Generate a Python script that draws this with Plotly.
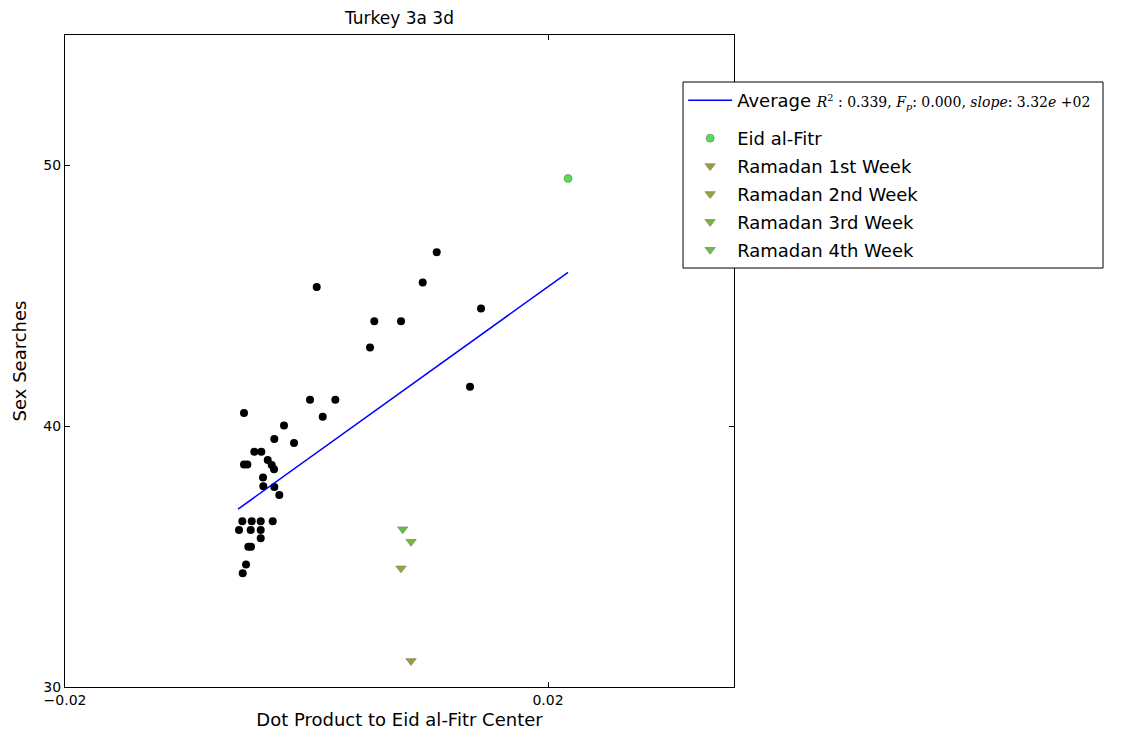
import plotly.graph_objects as go

# Black points (weekly observations)
avg_x = [-0.005176, 0.001342, -0.001863, -0.002667, -0.001035, -0.004323, -0.003743,
         -0.005176, -0.004903, -0.003213, -0.002882, -0.002691, -0.003602, -0.003578,
         -0.002667, -0.002253, -0.005317, -0.004538, -0.003793, -0.002799, -0.005590,
         -0.004621, -0.003793, -0.003793, -0.004820, -0.004596, -0.005010, -0.005284,
         0.010783, 0.000845, 0.009623, 0.014451, 0.005615, 0.007826, 0.005259,
         0.013540, 0.000290, 0.002385]
avg_y = [40.51, 40.36, 40.03, 39.51, 39.36, 39.02, 39.02,
         38.53, 38.53, 38.70, 38.51, 38.35, 38.03, 37.70,
         37.67, 37.36, 36.36, 36.36, 36.36, 36.36, 36.02,
         36.02, 36.02, 35.70, 35.38, 35.38, 34.70, 34.36,
         46.67, 45.34, 45.51, 44.51, 44.02, 44.02, 43.02,
         41.51, 41.01, 41.01]

# Fitted line endpoints
fit_x = [-0.00567, 0.021656]
fit_y = [36.82, 45.90]

eid_x = [0.021656]
eid_y = [49.50]

week_names = ["Ramadan 1st Week", "Ramadan 2nd Week", "Ramadan 3rd Week", "Ramadan 4th Week"]
week_x = [0.008654, 0.007826, 0.008654, 0.007967]
week_y = [31.0, 34.55, 35.57, 36.05]
week_colors = ["#a29a2a", "#8cab32", "#74b83a", "#66c048"]

x_ticks = [-0.02, 0.02]
y_ticks = [30, 40, 50]

fig = go.Figure()

fig.add_trace(go.Scatter(
    x=avg_x, y=avg_y, mode="markers", showlegend=False,
    marker=dict(color="black", size=8, line=dict(width=0))))

serif = "font-family:'DejaVu Serif';font-size:14px"
avg_label = ("Average <span style=\"%s\"><i>R</i><sup>2</sup> : 0.339, <i>F<sub>p</sub></i>: 0.000, "
             "<i>slope</i>: 3.32<i>e</i> +02</span>") % serif

fig.add_trace(go.Scatter(
    x=fit_x, y=fit_y, mode="lines", name=avg_label, legend="legend",
    line=dict(color="#0000ff", width=1.5)))

fig.add_trace(go.Scatter(
    x=eid_x, y=eid_y, mode="markers", name="Eid al-Fitr", legendgroup="g1",
    legend="legend2",
    marker=dict(color="#55dd55", size=8, line=dict(color="#888888", width=0.8))))

for i in range(len(week_names)):
    fig.add_trace(go.Scatter(
        x=[week_x[i]], y=[week_y[i]], mode="markers", name=week_names[i],
        legendgroup="w%d" % i, legend="legend2",
        marker=dict(symbol="triangle-down", color=week_colors[i], size=9,
                    line=dict(color="#888888", width=0.8))))

axis_common = dict(showline=True, linecolor="black", linewidth=1, mirror="ticks",
                   ticks="inside", ticklen=5, tickcolor="black", showgrid=False,
                   zeroline=False, tickfont=dict(family="DejaVu Sans", size=14, color="black"))

fig.update_xaxes(range=[-0.02, 0.0354], tickvals=x_ticks,
                 ticktext=["\u22120.02", "0.02"],
                 title=dict(text="Dot Product to Eid al-Fitr Center",
                            font=dict(family="DejaVu Sans", size=18, color="black"),
                            standoff=6),
                 **axis_common)
fig.update_yaxes(range=[30, 55], tickvals=y_ticks,
                 title=dict(text="Sex Searches",
                            font=dict(family="DejaVu Sans", size=18, color="black"),
                            standoff=12),
                 **axis_common)

# legend frame (white box with black border) drawn behind the two legends
fig.add_shape(type="rect", xref="paper", yref="paper",
              x0=0.9238, x1=1.5516, y0=0.6426, y1=0.9279,
              fillcolor="white", line=dict(color="black", width=1), layer="above")

legend_common = dict(xanchor="left", yanchor="top", bgcolor="rgba(0,0,0,0)",
                     borderwidth=0,
                     font=dict(family="DejaVu Sans", size=18, color="black"),
                     itemwidth=44, traceorder="grouped", tracegroupgap=1.5)

fig.update_layout(
    width=1128, height=742,
    margin=dict(l=57, r=402, t=27, b=63),
    paper_bgcolor="white", plot_bgcolor="white",
    title=dict(text="Turkey 3a 3d", x=(57 + 726) / 2 / 1128, xanchor="center",
               y=1 - 10 / 742, yanchor="middle",
               font=dict(family="DejaVu Sans", size=17, color="black")),
    legend=dict(x=0.924, y=0.928, **legend_common),
    legend2=dict(x=0.924, y=0.8697, **legend_common),
    font=dict(family="DejaVu Sans", color="black"),
)

fig.write_html("out.html")
